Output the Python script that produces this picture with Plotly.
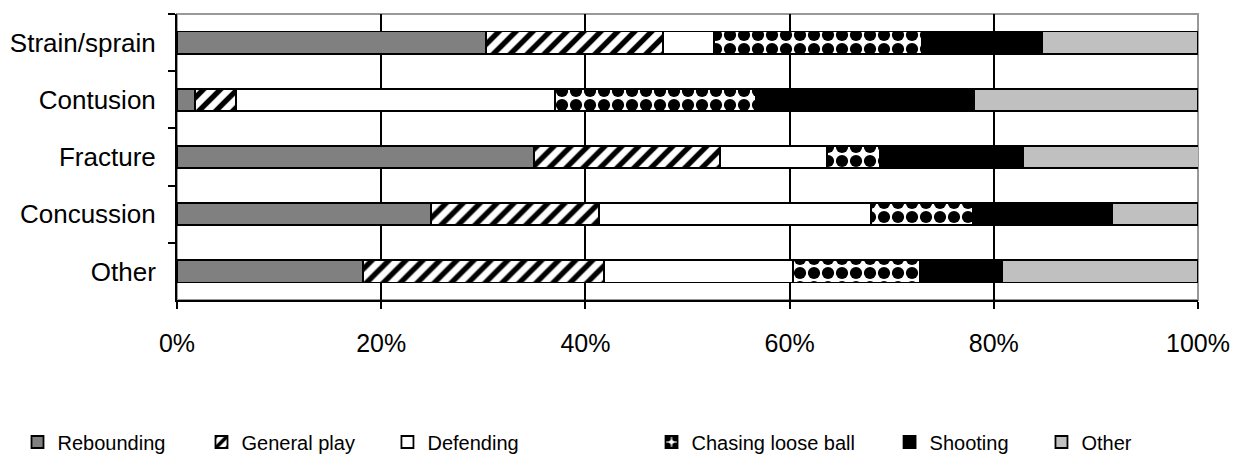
import plotly.graph_objects as go

categories = ["Strain/sprain", "Contusion", "Fracture", "Concussion", "Other"]

rebounding = [30.3, 1.8, 35.0, 24.9, 18.2]
general_play = [17.3, 4.0, 18.2, 16.4, 23.6]
defending = [5.0, 31.2, 10.5, 26.7, 18.5]
chasing_loose_ball = [20.4, 19.7, 5.1, 10.0, 12.5]
shooting = [11.7, 21.4, 14.1, 13.6, 8.0]
other = [15.3, 21.9, 17.2, 8.4, 19.2]

tick_vals = [0, 20, 40, 60, 80, 100]
tick_text = ["0%", "20%", "40%", "60%", "80%", "100%"]

series = [
    ("Rebounding", rebounding, "#808080", None),
    ("General play", general_play, "#ffffff", dict(shape="/", fgcolor="#000000", bgcolor="#ffffff", fgopacity=1, size=12, solidity=0.45)),
    ("Defending", defending, "#ffffff", None),
    ("Chasing loose ball", chasing_loose_ball, "#ffffff", dict(shape=".", fgcolor="#000000", bgcolor="#ffffff", fgopacity=1, size=14, solidity=0.6)),
    ("Shooting", shooting, "#000000", None),
    ("Other", other, "#c0c0c0", None),
]

# horizontal placement of each legend entry (container fraction)
legend_x = [0.0077, 0.1568, 0.3075, 0.5215, 0.7144, 0.8375]
legend_names = ["legend", "legend2", "legend3", "legend4", "legend5", "legend6"]

fig = go.Figure()
for (name, vals, color, pattern), lg in zip(series, legend_names):
    marker = dict(color=color, line=dict(color="#000000", width=1.8))
    if pattern:
        marker["pattern"] = pattern
    fig.add_trace(go.Bar(
        y=categories, x=vals, name=name, orientation="h",
        marker=marker, width=0.39, legend=lg,
    ))

legend_layout = {}
for lg, lx in zip(legend_names, legend_x):
    legend_layout[lg] = dict(
        orientation="h", xref="container", x=lx, xanchor="left",
        yref="container", y=0.044, yanchor="middle",
        font=dict(size=20), itemwidth=30, bgcolor="rgba(0,0,0,0)",
    )

fig.update_layout(
    barmode="stack",
    width=1234, height=454,
    margin=dict(l=169, r=44, t=6, b=162, autoexpand=False),
    paper_bgcolor="#ffffff",
    plot_bgcolor="#ffffff",
    font=dict(family="Liberation Sans, Arial, sans-serif", size=25, color="#000000"),
    showlegend=True,
    shapes=[dict(type="rect", xref="x domain", yref="y domain", x0=0, x1=1, y0=0, y1=1,
                 line=dict(color="#999999", width=2), layer="below")],
    **legend_layout,
)
fig.update_xaxes(
    range=[0, 100], tickvals=tick_vals, ticktext=tick_text,
    showgrid=True, gridcolor="#000000", gridwidth=2,
    showline=True, linecolor="#000000", linewidth=2,
    ticks="outside", ticklen=7, tickwidth=2, tickcolor="#000000",
    zeroline=False, fixedrange=True, ticklabelstandoff=13, automargin=False,
)
fig.update_yaxes(
    autorange="reversed", type="category",
    showline=True, linecolor="#000000", linewidth=2,
    ticks="outside", tickson="boundaries", ticklen=7, tickwidth=2, tickcolor="#000000",
    showgrid=False, fixedrange=True, ticklabelstandoff=14, automargin=False,
    tickfont=dict(size=26),
)

fig.write_html("out.html")
